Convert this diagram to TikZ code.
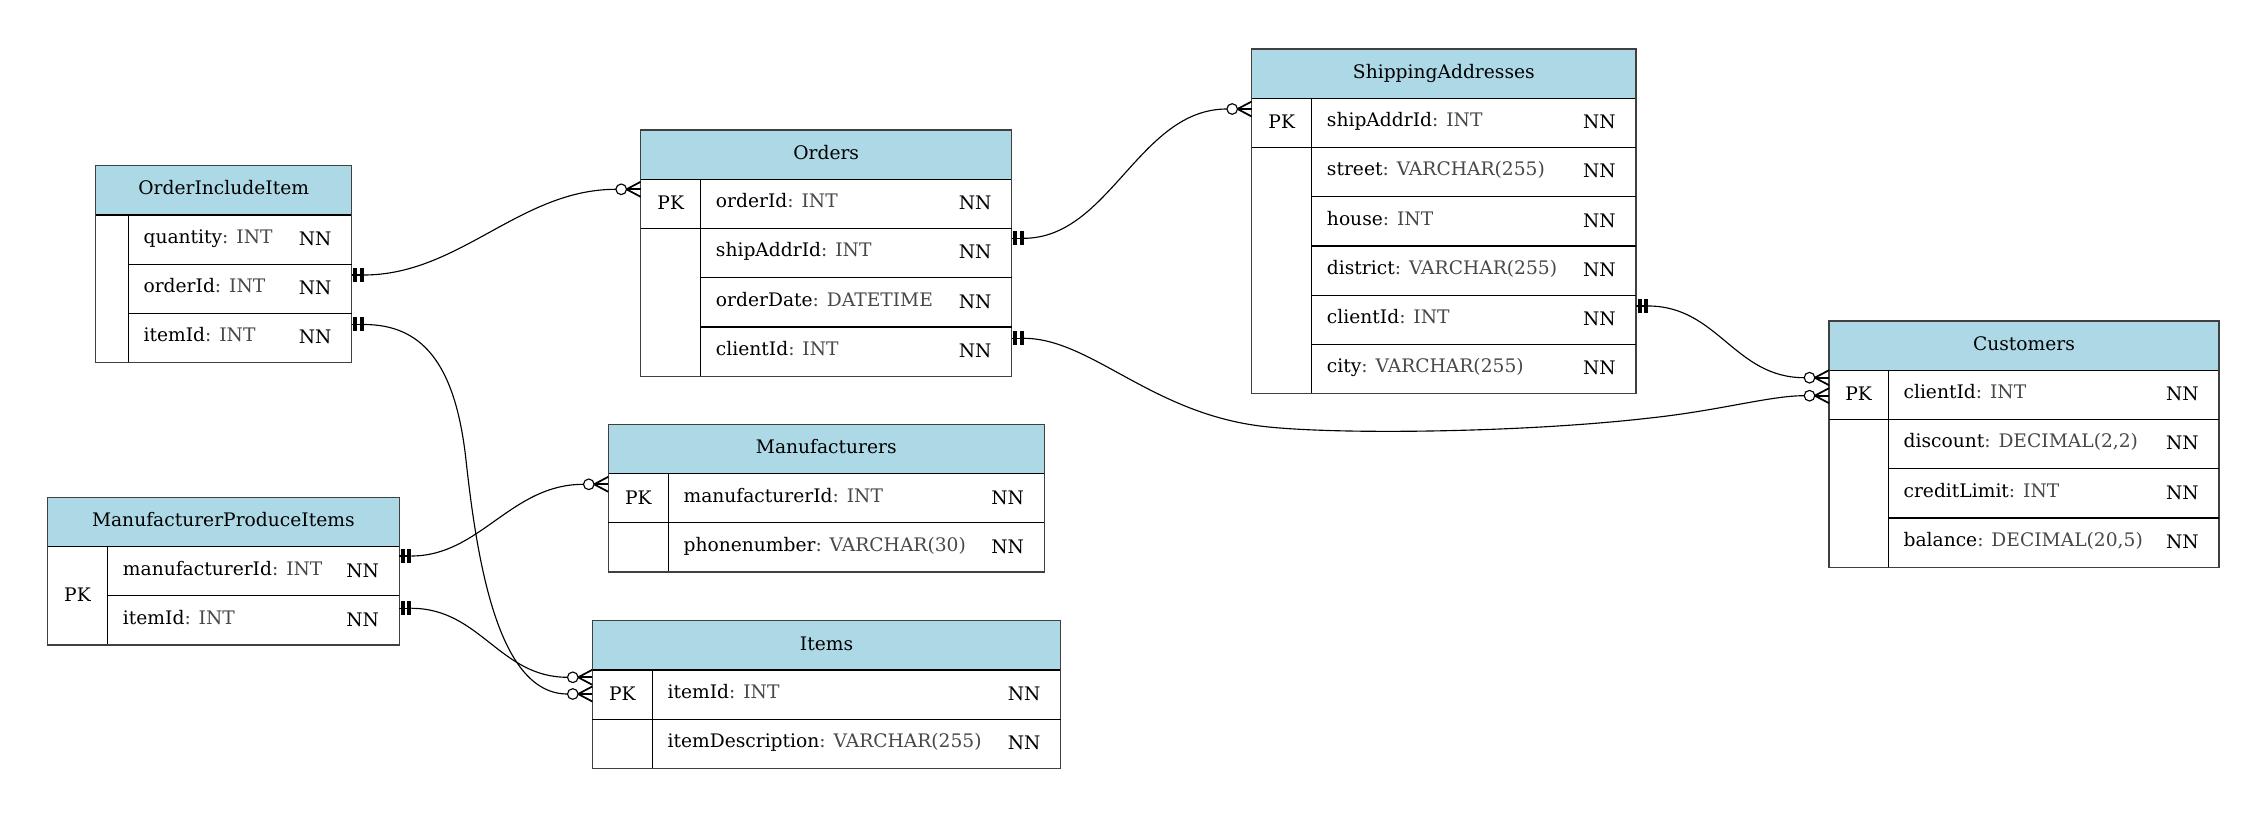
\documentclass[tikz,border=0pt]{standalone}
\usepackage{fontspec}
\setmainfont{DejaVu Serif}
\usetikzlibrary{calc}

\definecolor{hdrblue}{RGB}{173,216,230}
\definecolor{typegray}{RGB}{72,72,72}
\definecolor{framegray}{RGB}{64,64,64}

\tikzset{
  frame/.style={draw=framegray, line width=1.05pt},
  gridline/.style={draw=black, line width=0.95pt},
  txt/.style={inner sep=0pt, font=\fontsize{14}{16}\selectfont},
  titletext/.style={txt, anchor=base},
  fieldtext/.style={txt, anchor=base west},
  nntext/.style={txt, anchor=base east},
  pktext/.style={txt, anchor=base},
  rel/.style={draw=black, line width=0.85pt},
  crowline/.style={draw=black, line width=1.3pt},
}

% table geometry (pixel units): left, top, right, divider
\def\rowh{49.25}
\newcommand\settable[4]{\def\tabL{#1}\def\tabT{#2}\def\tabR{#3}\def\tabD{#4}}
% frame, header band, header rule and key column rule
\newcommand\ertable[3]{% name, title, number of rows
  \fill[hdrblue] (\tabL,\tabT) rectangle (\tabR,\tabT+\rowh);
  \draw[gridline] (\tabL,\tabT+\rowh) -- (\tabR,\tabT+\rowh);
  \draw[gridline] (\tabD,\tabT+\rowh) -- (\tabD,\tabT+\rowh*#3+\rowh);
  \draw[frame] (\tabL,\tabT) rectangle (\tabR,\tabT+\rowh*#3+\rowh);
  \node[titletext] (#1) at ({(\tabL+\tabR)/2},\tabT+29.3) {#2};
}
% rule above row #1, starting at x = #2
\newcommand\ersep[2]{\draw[gridline] (#2,\tabT+\rowh*#1) -- (\tabR,\tabT+\rowh*#1);}
% one attribute row: node name, row index, field, type
\newcommand\erfield[4]{%
  \node[fieldtext] (#1) at (\tabD+15,\tabT+\rowh*#2+28.5) {#3\textcolor{typegray}{: #4}};
  \node[nntext] (#1-nn) at (\tabR-20,\tabT+\rowh*#2+30.5) {NN};
}
% PK label in the key column: node name, baseline y
\newcommand\erpk[2]{\node[pktext] (#1) at ({(\tabL+\tabD)/2},#2) {PK};}

% "exactly one" mark on the right of a box edge
\newcommand\ertee[1]{%
  \fill ($(#1)+(1.5,-7)$) rectangle ($(#1)+(5.5,7)$);
  \fill ($(#1)+(8,-7)$) rectangle ($(#1)+(12,7)$);
  \draw[rel] (#1) -- ($(#1)+(12,0)$);
}
% "zero or many" mark on the left of a box edge
\newcommand\ercrow[1]{%
  \draw[crowline] ($(#1)+(-14.2,0)$) -- ($(#1)+(0,-7.5)$);
  \draw[crowline] ($(#1)+(-14.2,0)$) -- ($(#1)+(0,7.5)$);
  \draw[crowline] ($(#1)+(-14.2,0)$) -- (#1);
  \draw[rel, fill=white] ($(#1)+(-19.5,0)$) circle[radius=5.3];
}
% relationship: source edge, target edge, out and in handle lengths
\newcommand\errel[4]{%
  \ertee{#1}\ercrow{#2}
  \draw[rel] ($(#1)+(12,0)$) .. controls +(#3,0) and +(-#4,0) .. ($(#2)+(-24.8,0)$);
}

\begin{document}
\begin{tikzpicture}[x=0.75pt,y=-0.75pt]
\useasboundingbox (0,0) rectangle (2267,816);
\fill[white] (0,0) rectangle (2267,816);

% OrderIncludeItem
\settable{95.7}{165.7}{351.7}{128.3}
\ertable{oii}{OrderIncludeItem}{3}
\ersep{2}{\tabD}\ersep{3}{\tabD}
\erfield{oii-quantity}{1}{quantity}{INT}
\erfield{oii-orderId}{2}{orderId}{INT}
\erfield{oii-itemId}{3}{itemId}{INT}

% Orders
\settable{640.7}{130}{1011.7}{700.7}
\ertable{orders}{Orders}{4}
\ersep{2}{\tabL}\ersep{3}{\tabD}\ersep{4}{\tabD}
\erpk{orders-pk}{\tabT+\rowh+30.5}
\erfield{orders-orderId}{1}{orderId}{INT}
\erfield{orders-shipAddrId}{2}{shipAddrId}{INT}
\erfield{orders-orderDate}{3}{orderDate}{DATETIME}
\erfield{orders-clientId}{4}{clientId}{INT}

% ShippingAddresses
\settable{1251.7}{49}{1636}{1311.7}
\ertable{sa}{ShippingAddresses}{6}
\ersep{2}{\tabL}\ersep{3}{\tabD}\ersep{4}{\tabD}\ersep{5}{\tabD}\ersep{6}{\tabD}
\erpk{sa-pk}{\tabT+\rowh+30.5}
\erfield{sa-shipAddrId}{1}{shipAddrId}{INT}
\erfield{sa-street}{2}{street}{VARCHAR(255)}
\erfield{sa-house}{3}{house}{INT}
\erfield{sa-district}{4}{district}{VARCHAR(255)}
\erfield{sa-clientId}{5}{clientId}{INT}
\erfield{sa-city}{6}{city}{VARCHAR(255)}

% Customers
\settable{1829}{321}{2219}{1888.3}
\ertable{cust}{Customers}{4}
\ersep{2}{\tabL}\ersep{3}{\tabD}\ersep{4}{\tabD}
\erpk{cust-pk}{\tabT+\rowh+30.5}
\erfield{cust-clientId}{1}{clientId}{INT}
\erfield{cust-discount}{2}{discount}{DECIMAL(2,2)}
\erfield{cust-creditLimit}{3}{creditLimit}{INT}
\erfield{cust-balance}{4}{balance}{DECIMAL(20,5)}

% ManufacturerProduceItems
\settable{47.3}{497.3}{399.3}{107.7}
\ertable{mpi}{ManufacturerProduceItems}{2}
\ersep{2}{\tabD}
\erpk{mpi-pk}{\tabT+\rowh*2+5.5}
\erfield{mpi-manufacturerId}{1}{manufacturerId}{INT}
\erfield{mpi-itemId}{2}{itemId}{INT}

% Manufacturers
\settable{608.3}{424.3}{1044.3}{668.3}
\ertable{mfr}{Manufacturers}{2}
\ersep{2}{\tabL}
\erpk{mfr-pk}{\tabT+\rowh+30.5}
\erfield{mfr-manufacturerId}{1}{manufacturerId}{INT}
\erfield{mfr-phonenumber}{2}{phonenumber}{VARCHAR(30)}

% Items
\settable{592.3}{620.7}{1060.7}{652.3}
\ertable{items}{Items}{2}
\ersep{2}{\tabL}
\erpk{items-pk}{\tabT+\rowh+30.5}
\erfield{items-itemId}{1}{itemId}{INT}
\erfield{items-itemDescription}{2}{itemDescription}{VARCHAR(255)}

% attachment points on the box edges
\coordinate (oii-orderId-e) at (351.7,275);
\coordinate (oii-itemId-e) at (351.7,324.5);
\coordinate (orders-pk-w) at (640.7,189.3);
\coordinate (orders-ship-e) at (1011.7,238.3);
\coordinate (orders-client-e) at (1011.7,338.3);
\coordinate (sa-pk-w) at (1251.7,109);
\coordinate (sa-client-e) at (1636,306);
\coordinate (cust-pk-w1) at (1829,377.7);
\coordinate (cust-pk-w2) at (1829,395.7);
\coordinate (mpi-mfr-e) at (399.3,556);
\coordinate (mpi-item-e) at (399.3,608.3);
\coordinate (mfr-pk-w) at (608.3,484.3);
\coordinate (items-pk-w1) at (592.3,677.3);
\coordinate (items-pk-w2) at (592.3,694);

% relationships
\errel{oii-orderId-e}{orders-pk-w}{96}{96}
\errel{orders-ship-e}{sa-pk-w}{86}{88}
\errel{sa-client-e}{cust-pk-w1}{70}{70}
\errel{mpi-mfr-e}{mfr-pk-w}{69}{73}
\errel{mpi-item-e}{items-pk-w1}{69}{68}

% Orders.clientId -> Customers.clientId (long route under ShippingAddresses)
\ertee{orders-client-e}\ercrow{cust-pk-w2}
\draw[rel] ($(orders-client-e)+(12,0)$)
  .. controls (1090,338.3) and (1150,412) .. (1260,426)
  .. controls (1330,434.9) and (1520,433) .. (1650,418)
  .. controls (1720,410.5) and (1770,395.7) .. ($(cust-pk-w2)+(-24.8,0)$);

% OrderIncludeItem.itemId -> Items.itemId
\ertee{oii-itemId-e}\ercrow{items-pk-w2}
\draw[rel] ($(oii-itemId-e)+(12,0)$)
  .. controls (420,324.5) and (455,360) .. (466,460)
  .. controls (478,570) and (500,694) .. ($(items-pk-w2)+(-24.8,0)$);

\end{tikzpicture}
\end{document}
